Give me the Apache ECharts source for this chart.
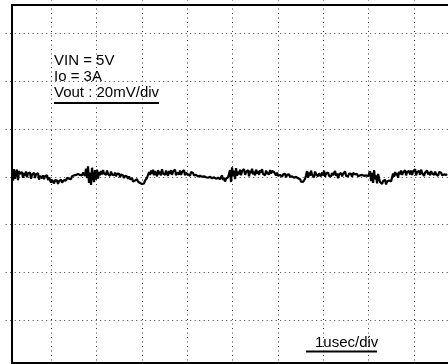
<!DOCTYPE html>
<html>
<head>
<meta charset="utf-8">
<script src="https://cdn.jsdelivr.net/npm/echarts@6/dist/echarts.min.js"></script>
<style>
  html, body { margin: 0; padding: 0; background: #fff; overflow: hidden; }
  #chart { width: 448px; height: 364px; }
</style>
</head>
<body>
<div id="chart"></div>
<script>
// Output ripple capture: 1 us/div horizontally, 20 mV/div vertically.
const conditionLines = ['VIN = 5V', 'Io = 3A', 'Vout : 20mV/div'];
const timebaseLabel = '1usec/div';

// Screen divisions (time in us, voltage in mV)
const timeDivs = [0, 10];
const voltDivs = [-80, 80];
const timePerDiv = 1;
const voltPerDiv = 20;

// Acquisition record: first sample time and sample spacing (us)
const sampleStart = 0.139;
const sampleStep = 0.02205;

// Ripple samples (mV, AC coupled)
const rippleMv = [
  2.8, -1.6, 3.2, -0.8, 1.9, 3.0, -1.4, 2.4, 1.2, 0.8, 2.0, -0.4, 1.6, 0.4, 2.2, -0.2, 1.4, 1.0, 1.8, -0.8,
  0.9, 0.3, 1.7, -0.5, 1.1, 0.6, 1.5, -1.2, 0.4, 0.8, -0.6, 0.6, -1.0, 0.2, -0.4, 0.7, -1.4, -0.2,
  -1.0, -2.4, -1.2, -2.0, -2.8, -1.4, -2.2, -1.6, -3.0, -1.8, -2.6, -1.2, -2.4, -2.0, -1.4, -2.2,
  -1.6, -0.4, -1.2, -0.8, 0.0, -1.0, 0.2, -0.4, 0.6, -0.2, 0.8, 0.2, 1.2, 0.4, 0.8, 1.4, 0.6, 1.8, 1.0, 0.4,
  3.4, -0.6, 4.4, -2.6, 1.8, -3.4, 3.8, 0.2, -2.2, 2.8, -1.2, 3.0, -0.8, 2.0,
  0.6, 2.4, 1.0, 2.8, 1.4, 2.0, 0.8, 2.6, 1.2, 1.8, 0.4, 2.2, 1.0, 1.6, 0.6, 1.8, 0.2, 1.2, 0.8, 1.4,
  -0.2, 0.9, 0.3, 0.6, -0.5, 0.4, -0.3, 0.1, -0.8, 0.2,
  -1.0, -1.8, -0.6, -2.0, -1.2, -1.6, -2.4, -1.0, -2.0, -1.4, -2.6, -1.8, -3.0, -2.2, -2.8, -1.6, -1.2, -0.4,
  0.4, 2.0, 0.8, 2.6, 1.2, 3.0, 0.6, 2.4, 1.6, 0.2, 2.8, 1.0, 2.2, 0.6, 3.2, 1.4, 2.0, 0.8, 2.6, 1.8,
  0.4, 2.4, 1.2, 2.8, 0.8, 2.2, 1.6, 3.0, 0.6, 1.8, 2.4, 1.0, 2.6, 0.8, 2.0, 1.4, 2.8, 0.6, 1.6, 2.2,
  1.0, 1.8, 0.4, 2.0, 1.2, 1.6, 0.6, 1.4, 0.8, 1.2, 0.2, 1.0,
  0.4, 1.2, 0.0, 0.8, 0.2, 1.0, -0.2, 0.6, -0.4, 0.4, 0.0, 0.8, -0.6, 0.2, -0.2, 0.6, -0.8, 0.0, -0.4, 0.4,
  -1.0, -0.2, 0.6, -1.4, -0.4, -2.0, -0.8, -1.6, -0.2, 0.6,
  2.8, -2.2, 4.0, 0.2, 2.6, -1.0, 3.6, 0.4, 2.2, 1.0, 3.0, 0.6, 2.4, 1.8, 3.2, 0.8, 2.0, 1.2, 2.8, 0.2,
  2.6, 1.6, 3.4, 1.0, 2.2, 0.6, 3.0, 1.4, 2.4, 0.8, 2.8, 1.8, 3.2, 1.2, 2.0, 0.6, 2.6, 1.6, 2.2, 1.0,
  2.8, 1.4, 2.4, 1.8, 2.0,
  1.6, 0.6, 1.8, 0.4, 1.2, 0.8, 1.4, 0.0, 1.0, 0.6, 1.2, -0.2, 0.8, 0.4, 1.0, 0.0, 0.6, 0.2, 0.8, -0.4,
  0.4, 0.0, 0.6, -0.6, 0.2,
  -1.0, -2.0, -1.4, -2.2, -1.6, -0.8,
  0.6, 2.4, -0.4, 1.8, 0.4, 2.6, 0.8, 1.6, -0.2, 2.2, 1.0, 1.8, 0.2, 1.4,
  1.6, 0.2, 1.8, 0.6, 2.6, 0.0, 1.4, 0.8, 1.8, 0.4, 1.0, 0.2, 1.6, 0.6, 1.2, 2.4, 0.4, 1.4, -0.6, 1.0,
  0.6, 1.6, 0.2, 1.2, 0.8, 2.2, 0.4, 1.0, 0.2, 1.4, 0.6, 1.2, 0.0, 1.6, 0.8, 1.0, 0.4, 1.2, 0.2, 0.8,
  0.6, -0.2, 0.8, 0.0, 0.4, -0.4, 0.6, 0.0, 0.2, -0.2,
  2.4, -1.8, 1.6, -2.6, 2.8, -1.0, 0.6, -2.8, 1.2, -0.6,
  -2.2, -1.4, -3.0, -1.8, -2.6, -1.2, -3.2, -2.0, -2.4, -1.6, -1.0, -2.0,
  -0.2, 1.4, 0.0, 2.0, 0.6, 1.6, -0.4, 2.2, 1.0, 2.6, 0.8, 1.8, 1.2, 2.8, 0.6, 2.0, 1.4, 2.4,
  1.0, 2.6, 0.8, 2.2, 1.4, 3.2, 0.6, 2.0, 1.2, 2.4, 0.8, 3.0, 1.6, 2.2, 0.4, 1.8, 1.2, 2.6, 1.0, 2.0,
  0.6, 2.4, 1.4, 1.8, 0.8, 2.2, 1.0, 1.6, 0.4, 2.0, 1.2, 1.8, 0.6, 1.4, 1.0, 1.6, 0.8, 1.2
];

const trace = rippleMv.map((v, i) => [sampleStart + i * sampleStep, v]);

const FONT = '15px "Liberation Sans", Arial, Helvetica, sans-serif';
const dotted = { color: '#3a3a3a', width: 1, type: [1, 3.5] };

const chart = echarts.init(document.getElementById('chart'), null, { renderer: 'canvas' });

chart.setOption({
  animation: false,
  backgroundColor: '#ffffff',
  grid: [
    // graticule: the full 10 x 8 division screen, partly outside the view
    { left: 5.7, top: -14, width: 453.6, height: 381.6, containLabel: false, outerBoundsMode: 'none' }
  ],
  xAxis: {
    type: 'value',
    min: timeDivs[0], max: timeDivs[1], interval: timePerDiv,
    axisLine: { show: false }, axisTick: { show: false }, axisLabel: { show: false },
    splitLine: { show: true, showMinLine: false, showMaxLine: false, lineStyle: dotted }
  },
  yAxis: {
    type: 'value',
    min: voltDivs[0], max: voltDivs[1], interval: voltPerDiv,
    axisLine: { show: false }, axisTick: { show: false }, axisLabel: { show: false },
    splitLine: { show: true, showMinLine: false, showMaxLine: false, lineStyle: dotted }
  },
  series: [
    {
      type: 'line',
      data: trace,
      showSymbol: false,
      smooth: false,
      clip: false,
      lineStyle: { color: '#000', width: 2.2 },
      z: 3
    }
  ],
  graphic: [
    // open frame: top, left and bottom edges of the screen
    { type: 'line', z: 9, shape: { x1: 12, y1: 5, x2: 448, y2: 5 }, style: { stroke: '#000', lineWidth: 2 } },
    { type: 'line', z: 9, shape: { x1: 12, y1: 4, x2: 12, y2: 364 }, style: { stroke: '#000', lineWidth: 2 } },
    { type: 'line', z: 9, shape: { x1: 12, y1: 363, x2: 448, y2: 363 }, style: { stroke: '#000', lineWidth: 2 } },
    { type: 'text', z: 10, style: { text: conditionLines[0], x: 54, y: 60.5, font: FONT, fill: '#000', verticalAlign: 'middle' } },
    { type: 'text', z: 10, style: { text: conditionLines[1], x: 54, y: 77, font: FONT, fill: '#000', verticalAlign: 'middle' } },
    { type: 'text', z: 10, style: { text: conditionLines[2], x: 54, y: 93, font: FONT, fill: '#000', verticalAlign: 'middle' } },
    { type: 'line', z: 10, shape: { x1: 54, y1: 103, x2: 159, y2: 103 }, style: { stroke: '#000', lineWidth: 2 } },
    { type: 'text', z: 10, style: { text: timebaseLabel, x: 315, y: 342.5, font: FONT, fill: '#000', verticalAlign: 'middle' } },
    { type: 'line', z: 10, shape: { x1: 306, y1: 351.5, x2: 377, y2: 351.5 }, style: { stroke: '#000', lineWidth: 2 } }
  ]
});
</script>
</body>
</html>
